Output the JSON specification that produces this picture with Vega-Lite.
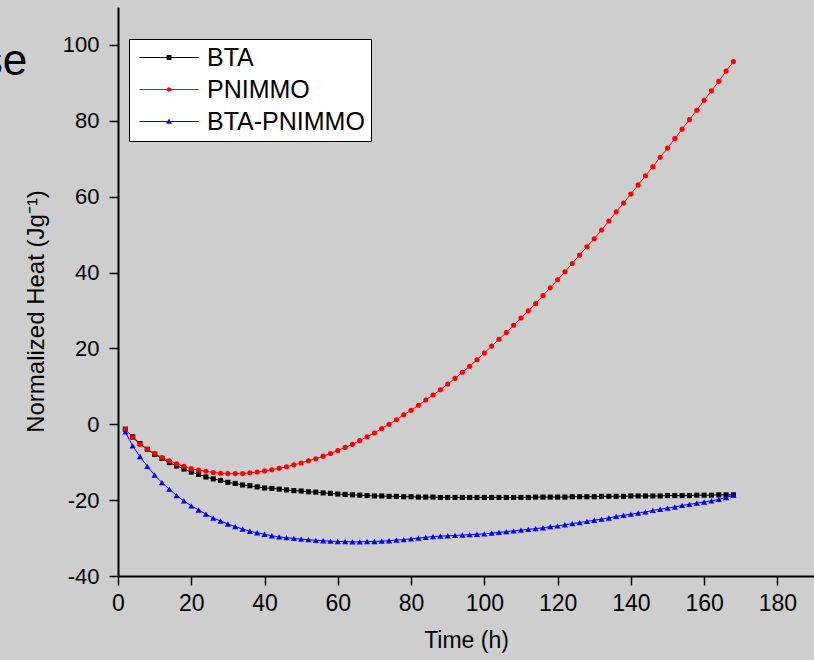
{
"$schema": "https://vega.github.io/schema/vega-lite/v6.json",
"width": 696, "height": 569,
"autosize": {"type": "none"},
"padding": {"left": 118, "top": 7, "right": 0, "bottom": 84},
"background": "#cecece",
"config": {"font": "Liberation Sans", "view": {"stroke": null}},
"data": {"values": [
{"x":2,"y":-1.3,"s":"BTA"},{"x":4,"y":-3.3,"s":"BTA"},{"x":6,"y":-5.1,"s":"BTA"},{"x":8,"y":-6.6,"s":"BTA"},{"x":10,"y":-7.9,"s":"BTA"},{"x":12,"y":-9.0,"s":"BTA"},{"x":14,"y":-10.1,"s":"BTA"},{"x":16,"y":-11.0,"s":"BTA"},{"x":18,"y":-11.8,"s":"BTA"},{"x":20,"y":-12.6,"s":"BTA"},{"x":22,"y":-13.2,"s":"BTA"},{"x":24,"y":-13.9,"s":"BTA"},{"x":26,"y":-14.4,"s":"BTA"},{"x":28,"y":-14.8,"s":"BTA"},{"x":30,"y":-15.3,"s":"BTA"},{"x":32,"y":-15.6,"s":"BTA"},{"x":34,"y":-16.0,"s":"BTA"},{"x":36,"y":-16.2,"s":"BTA"},{"x":38,"y":-16.5,"s":"BTA"},{"x":40,"y":-16.8,"s":"BTA"},{"x":42,"y":-16.9,"s":"BTA"},{"x":44,"y":-17.1,"s":"BTA"},{"x":46,"y":-17.3,"s":"BTA"},{"x":48,"y":-17.5,"s":"BTA"},{"x":50,"y":-17.6,"s":"BTA"},{"x":52,"y":-17.8,"s":"BTA"},{"x":54,"y":-17.9,"s":"BTA"},{"x":56,"y":-18.1,"s":"BTA"},{"x":58,"y":-18.2,"s":"BTA"},{"x":60,"y":-18.4,"s":"BTA"},{"x":62,"y":-18.5,"s":"BTA"},{"x":64,"y":-18.6,"s":"BTA"},{"x":66,"y":-18.7,"s":"BTA"},{"x":68,"y":-18.8,"s":"BTA"},{"x":70,"y":-18.9,"s":"BTA"},{"x":72,"y":-18.9,"s":"BTA"},{"x":74,"y":-19.0,"s":"BTA"},{"x":76,"y":-19.0,"s":"BTA"},{"x":78,"y":-19.1,"s":"BTA"},{"x":80,"y":-19.1,"s":"BTA"},{"x":82,"y":-19.2,"s":"BTA"},{"x":84,"y":-19.2,"s":"BTA"},{"x":86,"y":-19.2,"s":"BTA"},{"x":88,"y":-19.3,"s":"BTA"},{"x":90,"y":-19.3,"s":"BTA"},{"x":92,"y":-19.3,"s":"BTA"},{"x":94,"y":-19.3,"s":"BTA"},{"x":96,"y":-19.3,"s":"BTA"},{"x":98,"y":-19.3,"s":"BTA"},{"x":100,"y":-19.3,"s":"BTA"},{"x":102,"y":-19.3,"s":"BTA"},{"x":104,"y":-19.3,"s":"BTA"},{"x":106,"y":-19.3,"s":"BTA"},{"x":108,"y":-19.3,"s":"BTA"},{"x":110,"y":-19.3,"s":"BTA"},{"x":112,"y":-19.3,"s":"BTA"},{"x":114,"y":-19.2,"s":"BTA"},{"x":116,"y":-19.2,"s":"BTA"},{"x":118,"y":-19.2,"s":"BTA"},{"x":120,"y":-19.2,"s":"BTA"},{"x":122,"y":-19.2,"s":"BTA"},{"x":124,"y":-19.1,"s":"BTA"},{"x":126,"y":-19.1,"s":"BTA"},{"x":128,"y":-19.1,"s":"BTA"},{"x":130,"y":-19.1,"s":"BTA"},{"x":132,"y":-19.0,"s":"BTA"},{"x":134,"y":-19.0,"s":"BTA"},{"x":136,"y":-19.0,"s":"BTA"},{"x":138,"y":-19.0,"s":"BTA"},{"x":140,"y":-18.9,"s":"BTA"},{"x":142,"y":-18.9,"s":"BTA"},{"x":144,"y":-18.9,"s":"BTA"},{"x":146,"y":-18.9,"s":"BTA"},{"x":148,"y":-18.9,"s":"BTA"},{"x":150,"y":-18.8,"s":"BTA"},{"x":152,"y":-18.8,"s":"BTA"},{"x":154,"y":-18.8,"s":"BTA"},{"x":156,"y":-18.8,"s":"BTA"},{"x":158,"y":-18.7,"s":"BTA"},{"x":160,"y":-18.7,"s":"BTA"},{"x":162,"y":-18.7,"s":"BTA"},{"x":164,"y":-18.6,"s":"BTA"},{"x":166,"y":-18.6,"s":"BTA"},{"x":168,"y":-18.6,"s":"BTA"},
{"x":2,"y":-1.3,"s":"PNIMMO"},{"x":4,"y":-3.5,"s":"PNIMMO"},{"x":6,"y":-5.3,"s":"PNIMMO"},{"x":8,"y":-6.6,"s":"PNIMMO"},{"x":10,"y":-7.7,"s":"PNIMMO"},{"x":12,"y":-8.8,"s":"PNIMMO"},{"x":14,"y":-9.6,"s":"PNIMMO"},{"x":16,"y":-10.4,"s":"PNIMMO"},{"x":18,"y":-11.1,"s":"PNIMMO"},{"x":20,"y":-11.7,"s":"PNIMMO"},{"x":22,"y":-12.1,"s":"PNIMMO"},{"x":24,"y":-12.4,"s":"PNIMMO"},{"x":26,"y":-12.7,"s":"PNIMMO"},{"x":28,"y":-12.9,"s":"PNIMMO"},{"x":30,"y":-13.0,"s":"PNIMMO"},{"x":32,"y":-13.0,"s":"PNIMMO"},{"x":34,"y":-13.0,"s":"PNIMMO"},{"x":36,"y":-12.8,"s":"PNIMMO"},{"x":38,"y":-12.6,"s":"PNIMMO"},{"x":40,"y":-12.3,"s":"PNIMMO"},{"x":42,"y":-12.0,"s":"PNIMMO"},{"x":44,"y":-11.6,"s":"PNIMMO"},{"x":46,"y":-11.2,"s":"PNIMMO"},{"x":48,"y":-10.7,"s":"PNIMMO"},{"x":50,"y":-10.2,"s":"PNIMMO"},{"x":52,"y":-9.6,"s":"PNIMMO"},{"x":54,"y":-9.1,"s":"PNIMMO"},{"x":56,"y":-8.4,"s":"PNIMMO"},{"x":58,"y":-7.7,"s":"PNIMMO"},{"x":60,"y":-6.9,"s":"PNIMMO"},{"x":62,"y":-6.1,"s":"PNIMMO"},{"x":64,"y":-5.3,"s":"PNIMMO"},{"x":66,"y":-4.3,"s":"PNIMMO"},{"x":68,"y":-3.3,"s":"PNIMMO"},{"x":70,"y":-2.3,"s":"PNIMMO"},{"x":72,"y":-1.1,"s":"PNIMMO"},{"x":74,"y":0.0,"s":"PNIMMO"},{"x":76,"y":1.2,"s":"PNIMMO"},{"x":78,"y":2.5,"s":"PNIMMO"},{"x":80,"y":3.7,"s":"PNIMMO"},{"x":82,"y":5.0,"s":"PNIMMO"},{"x":84,"y":6.4,"s":"PNIMMO"},{"x":86,"y":7.7,"s":"PNIMMO"},{"x":88,"y":9.1,"s":"PNIMMO"},{"x":90,"y":10.6,"s":"PNIMMO"},{"x":92,"y":12.1,"s":"PNIMMO"},{"x":94,"y":13.7,"s":"PNIMMO"},{"x":96,"y":15.3,"s":"PNIMMO"},{"x":98,"y":17.0,"s":"PNIMMO"},{"x":100,"y":18.8,"s":"PNIMMO"},{"x":102,"y":20.6,"s":"PNIMMO"},{"x":104,"y":22.4,"s":"PNIMMO"},{"x":106,"y":24.2,"s":"PNIMMO"},{"x":108,"y":26.1,"s":"PNIMMO"},{"x":110,"y":28.0,"s":"PNIMMO"},{"x":112,"y":29.9,"s":"PNIMMO"},{"x":114,"y":31.8,"s":"PNIMMO"},{"x":116,"y":33.9,"s":"PNIMMO"},{"x":118,"y":36.0,"s":"PNIMMO"},{"x":120,"y":38.1,"s":"PNIMMO"},{"x":122,"y":40.2,"s":"PNIMMO"},{"x":124,"y":42.4,"s":"PNIMMO"},{"x":126,"y":44.6,"s":"PNIMMO"},{"x":128,"y":46.8,"s":"PNIMMO"},{"x":130,"y":48.9,"s":"PNIMMO"},{"x":132,"y":51.2,"s":"PNIMMO"},{"x":134,"y":53.6,"s":"PNIMMO"},{"x":136,"y":56.0,"s":"PNIMMO"},{"x":138,"y":58.3,"s":"PNIMMO"},{"x":140,"y":60.7,"s":"PNIMMO"},{"x":142,"y":63.1,"s":"PNIMMO"},{"x":144,"y":65.5,"s":"PNIMMO"},{"x":146,"y":67.9,"s":"PNIMMO"},{"x":148,"y":70.4,"s":"PNIMMO"},{"x":150,"y":72.8,"s":"PNIMMO"},{"x":152,"y":75.3,"s":"PNIMMO"},{"x":154,"y":77.8,"s":"PNIMMO"},{"x":156,"y":80.3,"s":"PNIMMO"},{"x":158,"y":82.8,"s":"PNIMMO"},{"x":160,"y":85.4,"s":"PNIMMO"},{"x":162,"y":87.9,"s":"PNIMMO"},{"x":164,"y":90.4,"s":"PNIMMO"},{"x":166,"y":93.1,"s":"PNIMMO"},{"x":168,"y":95.6,"s":"PNIMMO"},
{"x":2,"y":-2.0,"s":"BTA-PNIMMO"},{"x":4,"y":-5.7,"s":"BTA-PNIMMO"},{"x":6,"y":-8.5,"s":"BTA-PNIMMO"},{"x":8,"y":-11.1,"s":"BTA-PNIMMO"},{"x":10,"y":-13.4,"s":"BTA-PNIMMO"},{"x":12,"y":-15.4,"s":"BTA-PNIMMO"},{"x":14,"y":-17.1,"s":"BTA-PNIMMO"},{"x":16,"y":-18.8,"s":"BTA-PNIMMO"},{"x":18,"y":-20.2,"s":"BTA-PNIMMO"},{"x":20,"y":-21.5,"s":"BTA-PNIMMO"},{"x":22,"y":-22.6,"s":"BTA-PNIMMO"},{"x":24,"y":-23.7,"s":"BTA-PNIMMO"},{"x":26,"y":-24.7,"s":"BTA-PNIMMO"},{"x":28,"y":-25.5,"s":"BTA-PNIMMO"},{"x":30,"y":-26.3,"s":"BTA-PNIMMO"},{"x":32,"y":-27.0,"s":"BTA-PNIMMO"},{"x":34,"y":-27.6,"s":"BTA-PNIMMO"},{"x":36,"y":-28.2,"s":"BTA-PNIMMO"},{"x":38,"y":-28.6,"s":"BTA-PNIMMO"},{"x":40,"y":-29.0,"s":"BTA-PNIMMO"},{"x":42,"y":-29.4,"s":"BTA-PNIMMO"},{"x":44,"y":-29.7,"s":"BTA-PNIMMO"},{"x":46,"y":-29.9,"s":"BTA-PNIMMO"},{"x":48,"y":-30.1,"s":"BTA-PNIMMO"},{"x":50,"y":-30.3,"s":"BTA-PNIMMO"},{"x":52,"y":-30.4,"s":"BTA-PNIMMO"},{"x":54,"y":-30.6,"s":"BTA-PNIMMO"},{"x":56,"y":-30.7,"s":"BTA-PNIMMO"},{"x":58,"y":-30.8,"s":"BTA-PNIMMO"},{"x":60,"y":-30.9,"s":"BTA-PNIMMO"},{"x":62,"y":-30.9,"s":"BTA-PNIMMO"},{"x":64,"y":-31.0,"s":"BTA-PNIMMO"},{"x":66,"y":-31.0,"s":"BTA-PNIMMO"},{"x":68,"y":-30.9,"s":"BTA-PNIMMO"},{"x":70,"y":-30.9,"s":"BTA-PNIMMO"},{"x":72,"y":-30.8,"s":"BTA-PNIMMO"},{"x":74,"y":-30.7,"s":"BTA-PNIMMO"},{"x":76,"y":-30.5,"s":"BTA-PNIMMO"},{"x":78,"y":-30.4,"s":"BTA-PNIMMO"},{"x":80,"y":-30.2,"s":"BTA-PNIMMO"},{"x":82,"y":-30.0,"s":"BTA-PNIMMO"},{"x":84,"y":-29.8,"s":"BTA-PNIMMO"},{"x":86,"y":-29.6,"s":"BTA-PNIMMO"},{"x":88,"y":-29.5,"s":"BTA-PNIMMO"},{"x":90,"y":-29.4,"s":"BTA-PNIMMO"},{"x":92,"y":-29.3,"s":"BTA-PNIMMO"},{"x":94,"y":-29.2,"s":"BTA-PNIMMO"},{"x":96,"y":-29.1,"s":"BTA-PNIMMO"},{"x":98,"y":-29.0,"s":"BTA-PNIMMO"},{"x":100,"y":-28.9,"s":"BTA-PNIMMO"},{"x":102,"y":-28.7,"s":"BTA-PNIMMO"},{"x":104,"y":-28.5,"s":"BTA-PNIMMO"},{"x":106,"y":-28.3,"s":"BTA-PNIMMO"},{"x":108,"y":-28.1,"s":"BTA-PNIMMO"},{"x":110,"y":-27.9,"s":"BTA-PNIMMO"},{"x":112,"y":-27.7,"s":"BTA-PNIMMO"},{"x":114,"y":-27.5,"s":"BTA-PNIMMO"},{"x":116,"y":-27.3,"s":"BTA-PNIMMO"},{"x":118,"y":-27.0,"s":"BTA-PNIMMO"},{"x":120,"y":-26.8,"s":"BTA-PNIMMO"},{"x":122,"y":-26.5,"s":"BTA-PNIMMO"},{"x":124,"y":-26.2,"s":"BTA-PNIMMO"},{"x":126,"y":-25.9,"s":"BTA-PNIMMO"},{"x":128,"y":-25.6,"s":"BTA-PNIMMO"},{"x":130,"y":-25.3,"s":"BTA-PNIMMO"},{"x":132,"y":-25.0,"s":"BTA-PNIMMO"},{"x":134,"y":-24.7,"s":"BTA-PNIMMO"},{"x":136,"y":-24.3,"s":"BTA-PNIMMO"},{"x":138,"y":-24.0,"s":"BTA-PNIMMO"},{"x":140,"y":-23.7,"s":"BTA-PNIMMO"},{"x":142,"y":-23.4,"s":"BTA-PNIMMO"},{"x":144,"y":-23.1,"s":"BTA-PNIMMO"},{"x":146,"y":-22.7,"s":"BTA-PNIMMO"},{"x":148,"y":-22.4,"s":"BTA-PNIMMO"},{"x":150,"y":-22.1,"s":"BTA-PNIMMO"},{"x":152,"y":-21.8,"s":"BTA-PNIMMO"},{"x":154,"y":-21.4,"s":"BTA-PNIMMO"},{"x":156,"y":-21.1,"s":"BTA-PNIMMO"},{"x":158,"y":-20.8,"s":"BTA-PNIMMO"},{"x":160,"y":-20.5,"s":"BTA-PNIMMO"},{"x":162,"y":-20.2,"s":"BTA-PNIMMO"},{"x":164,"y":-19.8,"s":"BTA-PNIMMO"},{"x":166,"y":-19.3,"s":"BTA-PNIMMO"},{"x":168,"y":-18.7,"s":"BTA-PNIMMO"}
]},
"layer": [
{
 "transform": [{"filter": "datum.s === 'BTA'"}],
 "mark": {"type": "line", "strokeWidth": 1, "color": "#000000"},
 "encoding": {
  "x": {"field": "x", "type": "quantitative",
   "scale": {"domain": [0, 190], "nice": false, "zero": false},
   "axis": {"values": [0,10,20,30,40,50,60,70,80,90,100,110,120,130,140,150,160,170,180],
    "labelExpr": "datum.value % 20 === 0 ? '' + datum.value : ''",
    "title": "Time (h)", "grid": false, "labelFlush": false, "labelOverlap": false,
    "domainColor": "black", "domainWidth": 2, "tickColor": "black", "tickWidth": 1.5,
    "tickSize": {"condition": {"test": "datum.value % 20 === 0", "value": 9}, "value": 5},
    "labelFontSize": 23, "labelColor": "black", "labelPadding": 7,
    "titleFontSize": 23, "titleFontWeight": "normal", "titleColor": "black", "titlePadding": 14}},
  "y": {"field": "y", "type": "quantitative",
   "scale": {"domain": [-40, 110], "nice": false, "zero": false},
   "axis": {"values": [-40,-30,-20,-10,0,10,20,30,40,50,60,70,80,90,100,110],
    "labelExpr": "datum.value % 20 === 0 ? '' + datum.value : ''",
    "title": "Normalized Heat (Jg⁻¹)", "grid": false, "labelFlush": false, "labelOverlap": false,
    "domainColor": "black", "domainWidth": 2, "tickColor": "black", "tickWidth": 1.5,
    "tickSize": {"condition": {"test": "datum.value % 20 === 0", "value": 9}, "value": 5},
    "labelFontSize": 22, "labelColor": "black", "labelPadding": 10,
    "titleFontSize": 24, "titleFontWeight": "normal", "titleColor": "black", "titlePadding": 14, "titleY": 304}},
  "order": {"field": "x"}
 }
},
{
 "transform": [{"filter": "datum.s === 'BTA'"}],
 "mark": {"type": "point", "filled": true, "shape": "square", "size": 26, "color": "#000000", "opacity": 1},
 "encoding": {"x": {"field": "x", "type": "quantitative"}, "y": {"field": "y", "type": "quantitative"}}
},
{
 "transform": [{"filter": "datum.s === 'PNIMMO'"}],
 "mark": {"type": "line", "strokeWidth": 1, "color": "#ff0000"},
 "encoding": {"x": {"field": "x", "type": "quantitative"}, "y": {"field": "y", "type": "quantitative"}, "order": {"field": "x"}}
},
{
 "transform": [{"filter": "datum.s === 'PNIMMO'"}],
 "mark": {"type": "point", "filled": true, "shape": "circle", "size": 26, "color": "#ff0000", "opacity": 1},
 "encoding": {"x": {"field": "x", "type": "quantitative"}, "y": {"field": "y", "type": "quantitative"}}
},
{
 "transform": [{"filter": "datum.s === 'BTA-PNIMMO'"}],
 "mark": {"type": "line", "strokeWidth": 1, "color": "#0000ff"},
 "encoding": {"x": {"field": "x", "type": "quantitative"}, "y": {"field": "y", "type": "quantitative"}, "order": {"field": "x"}}
},
{
 "transform": [{"filter": "datum.s === 'BTA-PNIMMO'"}],
 "mark": {"type": "point", "filled": true, "shape": "triangle-up", "size": 38, "color": "#0000ff", "opacity": 1},
 "encoding": {"x": {"field": "x", "type": "quantitative"}, "y": {"field": "y", "type": "quantitative"}}
},
{
 "transform": [{"filter": "false"}],
 "mark": {"type": "point", "filled": true, "opacity": 1},
 "encoding": {
  "x": {"field": "x", "type": "quantitative"},
  "y": {"field": "y", "type": "quantitative"},
  "color": {"field": "s", "type": "nominal",
   "scale": {"domain": ["BTA", "PNIMMO", "BTA-PNIMMO"], "range": ["#000000", "#ff0000", "#0000ff"]},
   "legend": {"title": null, "orient": "none", "legendX": 11, "legendY": 32,
    "fillColor": "white", "strokeColor": "black", "padding": 6, "symbolSize": 400,
    "labelFontSize": 25, "labelColor": "black", "labelOffset": 47, "rowPadding": 6, "symbolStrokeWidth": 0}},
  "shape": {"field": "s", "type": "nominal",
   "scale": {"domain": ["BTA", "PNIMMO", "BTA-PNIMMO"],
    "range": ["M-0.8,-0.05H5.1V0.05H-0.8Z M1.9,-0.25H2.4V0.25H1.9Z",
              "M-0.8,-0.05H5.1V0.05H-0.8Z M1.92,0A0.23,0.23,0,1,1,2.38,0A0.23,0.23,0,1,1,1.92,0Z",
              "M-0.8,-0.05H5.1V0.05H-0.8Z M2.15,-0.3L2.45,0.22L1.85,0.22Z"]},
   "legend": {"title": null, "orient": "none", "legendX": 11, "legendY": 32,
    "fillColor": "white", "strokeColor": "black", "padding": 6, "symbolSize": 400,
    "labelFontSize": 25, "labelColor": "black", "labelOffset": 47, "rowPadding": 6, "symbolStrokeWidth": 0}}
 }
},
{
 "data": {"values": [{"t": "se"}]},
 "mark": {"type": "text", "align": "right", "baseline": "alphabetic", "fontSize": 44, "color": "black", "font": "Liberation Sans"},
 "encoding": {"x": {"datum": -24.8}, "y": {"datum": 92.2}, "text": {"field": "t"}}
}
]
}
